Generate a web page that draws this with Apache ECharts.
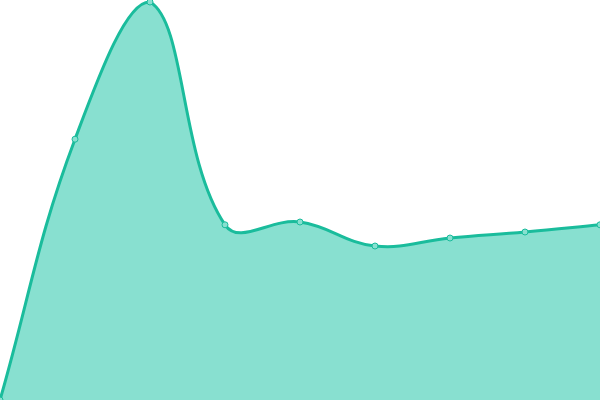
<!DOCTYPE html>
<html>
<head>
<meta charset="utf-8">
<script src="https://cdn.jsdelivr.net/npm/echarts@6/dist/echarts.min.js"></script>
<style>html,body{margin:0;padding:0;background:#fff}#c{width:600px;height:400px}</style>
</head>
<body>
<div id="c"></div>
<script>
const categories = ['1','2','3','4','5','6','7','8','9'];
const values = [0, 65.2, 99.5, 43.8, 44.5, 38.5, 40.5, 42, 43.8];

const TENSION = 0.4;

function clamp(v, lo, hi) { return Math.max(lo, Math.min(hi, v)); }

function buildPath(pts, rect) {
  const cps = [];
  for (let i = 0; i < pts.length; i++) {
    const p = pts[i];
    const prev = pts[i - 1] || p;
    const next = pts[i + 1] || p;
    const d01 = Math.hypot(p[0] - prev[0], p[1] - prev[1]);
    const d12 = Math.hypot(next[0] - p[0], next[1] - p[1]);
    let s01 = d01 / (d01 + d12), s12 = d12 / (d01 + d12);
    if (!isFinite(s01)) s01 = 0;
    if (!isFinite(s12)) s12 = 0;
    const fa = TENSION * s01, fb = TENSION * s12;
    const bx = clamp(p[0] - fa * (next[0] - prev[0]), rect.x, rect.x + rect.width);
    const by = clamp(p[1] - fa * (next[1] - prev[1]), rect.y, rect.y + rect.height);
    const ax = clamp(p[0] + fb * (next[0] - prev[0]), rect.x, rect.x + rect.width);
    const ay = clamp(p[1] + fb * (next[1] - prev[1]), rect.y, rect.y + rect.height);
    cps.push({before: [bx, by], after: [ax, ay]});
  }
  let d = 'M' + pts[0][0] + ' ' + pts[0][1];
  for (let i = 1; i < pts.length; i++) {
    const a = cps[i - 1].after, b = cps[i].before, p = pts[i];
    d += ' C' + a[0] + ' ' + a[1] + ' ' + b[0] + ' ' + b[1] + ' ' + p[0] + ' ' + p[1];
  }
  return d;
}

const chart = echarts.init(document.getElementById('c'), null, {renderer: 'canvas'});
chart.setOption({
  animation: false,
  grid: {left: 0, right: 0, top: 0, bottom: 0},
  xAxis: {type: 'category', data: categories, boundaryGap: false, show: false},
  yAxis: {type: 'value', min: 0, max: 100, show: false},
  series: [{
    type: 'custom',
    z: 1,
    clip: true,
    data: values.map((v, i) => [i, v]),
    renderItem: function (params, api) {
      if (params.dataIndex !== 0) return null;
      const rect = params.coordSys;
      const pts = values.map((v, i) => api.coord([i, v]));
      const line = buildPath(pts, rect);
      const base0 = api.coord([0, 0]);
      const baseN = api.coord([values.length - 1, 0]);
      const area = line + ' L' + baseN[0] + ' ' + baseN[1] + ' L' + base0[0] + ' ' + base0[1] + ' Z';
      return {
        type: 'group',
        children: [
          {type: 'path', shape: {pathData: area}, style: {fill: '#88e0d0', stroke: null}},
          {type: 'path', shape: {pathData: line}, style: {fill: null, stroke: '#1abc9c', lineWidth: 3}}
        ]
      };
    }
  }, {
    type: 'line',
    z: 3,
    data: values,
    symbol: 'circle',
    symbolSize: 6,
    showSymbol: true,
    lineStyle: {width: 0, opacity: 0},
    itemStyle: {color: '#88e0d0', borderColor: '#1abc9c', borderWidth: 1}
  }]
});
</script>
</body>
</html>
